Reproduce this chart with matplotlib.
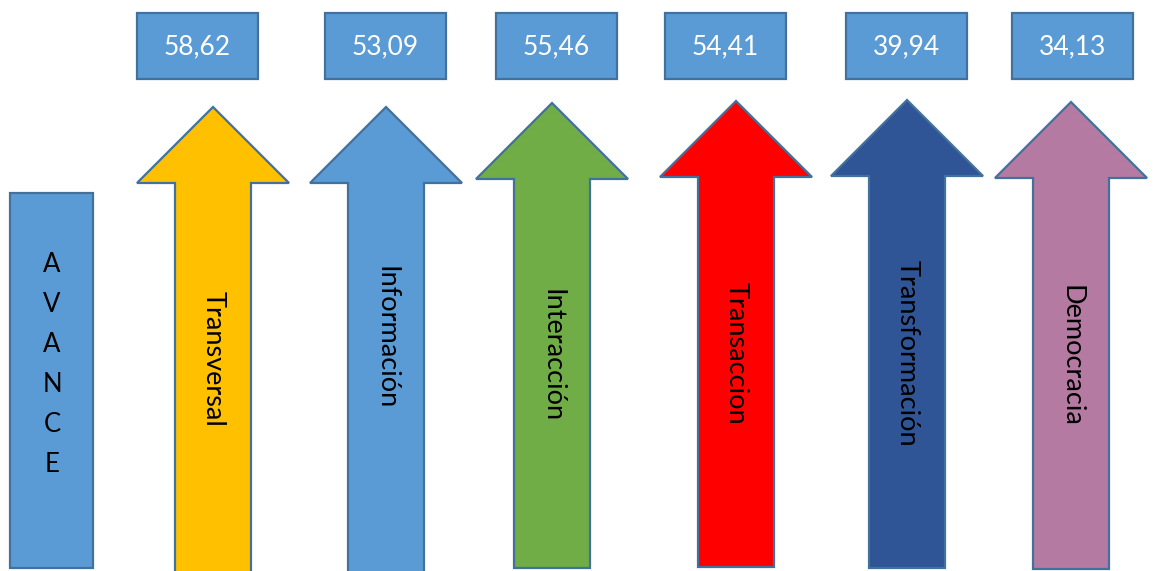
import matplotlib
matplotlib.use("Agg")
import matplotlib.pyplot as plt
from matplotlib.patches import Polygon, Rectangle

# ---- data ----
categories = ["Transversal", "Información", "Interacción", "Transaccion", "Transformación", "Democracia"]
values = [58.62, 53.09, 55.46, 54.41, 39.94, 34.13]
arrow_colors = ["#FFC000", "#5B9BD5", "#70AD47", "#FF0000", "#2F5597", "#B47AA2"]
side_label = "AVANCE"

# ---- layout (pixel coordinates of the 1155x571 canvas) ----
W, H = 1155, 571
box_fill = "#5B9BD5"
edge = "#41719C"
value_box_left = [137, 325, 496, 665, 846, 1012]
value_box_w, value_box_top, value_box_h = 121, 13, 66
arrow_cx = [213, 386, 552, 736, 907, 1071]
arrow_tip = [107, 107, 103, 101, 100, 102]
arrow_bottom = [578, 578, 568, 567, 568, 569]
head_half = 76
shaft_half = 38
head_h = 76
label_cy = [359, 338, 356, 353, 353, 356]

fig = plt.figure(figsize=(W / 100, H / 100), dpi=100)
ax = fig.add_axes([0, 0, 1, 1])
ax.set_xlim(0, W)
ax.set_ylim(H, 0)
ax.axis("off")

font = "Lato"

# AVANCE box
ax.add_patch(Rectangle((10, 193), 83, 375, facecolor=box_fill, edgecolor=edge, lw=1.6))
for i, ch in enumerate(side_label):
    ax.text(52, 364.5 + (i - 2.5) * 39.8, ch, ha="center", va="center",
            fontsize=18.5, family=font, color="black")

for i, (cat, val, col) in enumerate(zip(categories, values, arrow_colors)):
    # value box
    ax.add_patch(Rectangle((value_box_left[i], value_box_top), value_box_w, value_box_h,
                           facecolor=box_fill, edgecolor=edge, lw=1.6))
    ax.text(value_box_left[i] + value_box_w / 2, value_box_top + value_box_h / 2 + 1,
            f"{val:.2f}".replace(".", ","), ha="center", va="center",
            fontsize=19, family=font, color="white")
    # arrow
    cx, tip, bot = arrow_cx[i], arrow_tip[i], arrow_bottom[i]
    base = tip + head_h
    pts = [(cx, tip), (cx + head_half, base), (cx + shaft_half, base),
           (cx + shaft_half, bot), (cx - shaft_half, bot), (cx - shaft_half, base),
           (cx - head_half, base)]
    ax.add_patch(Polygon(pts, closed=True, facecolor=col, edgecolor=edge, lw=1.6,
                         joinstyle="miter"))
    ax.text(cx, label_cy[i], cat, rotation=270, ha="center", va="center",
            fontsize=19.5, family=font, color="black")

fig.savefig("out.png", dpi=100)
